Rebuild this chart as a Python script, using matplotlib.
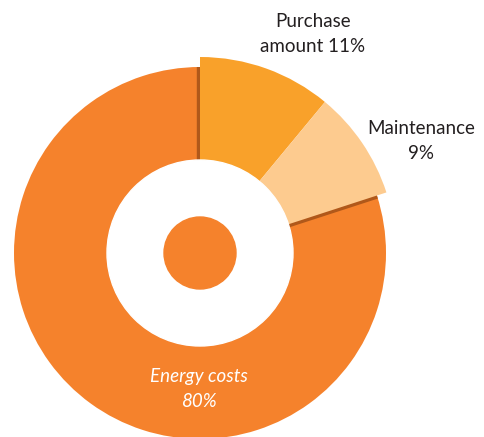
import matplotlib.pyplot as plt
from matplotlib.patches import Circle
import numpy as np

# cost shares (%), drawn clockwise from 12 o'clock
categories = ['Purchase amount', 'Maintenance', 'Energy costs']
shares = [11, 9, 80]
colors = ['#F9A12A', '#FDCB8F', '#F5822C']
brown = '#B0581A'

W, H = 485, 437
fig = plt.figure(figsize=(W / 100, H / 100), dpi=100)
ax = fig.add_axes([0, 0, 1, 1])

# work in pixel units, y measured up from the bottom
cx, cy = 200, H - 253
r = 186

wedges, _ = ax.pie(shares, colors=colors, startangle=90, counterclock=False,
                   radius=r, center=(cx, cy), frame=True,
                   wedgeprops=dict(linewidth=0))
ax.set_xlim(0, W)
ax.set_ylim(0, H)
ax.set_aspect('equal')
ax.axis('off')

# the two small slices stick out a bit further
for w in wedges[:2]:
    w.set_radius(r + 10)
    w.set_zorder(3)
wedges[2].set_zorder(1)

# dark edges on both ends of the energy slice
for ang in (wedges[2].theta1, wedges[2].theta2):
    a = np.deg2rad(ang)
    ax.plot([cx, cx + r * np.cos(a)], [cy, cy + r * np.sin(a)],
            color=brown, lw=4.6, solid_capstyle='butt', zorder=2)

ax.add_patch(Circle((cx, cy), 93, color='white', zorder=4))
ax.add_patch(Circle((cx, cy), 36, color=colors[2], zorder=5))

font = 'Lato'
fs = 13.5
ax.text(313, H - 34, f'Purchase\namount {shares[0]}%', ha='center', va='center',
        fontsize=fs, family=font, color='#231F20', linespacing=1.55, zorder=6)
ax.text(421, H - 141, f'Maintenance\n{shares[1]}%', ha='center', va='center',
        fontsize=fs, family=font, color='#231F20', linespacing=1.55, zorder=6)
ax.text(199, H - 389, f'Energy costs\n{shares[2]}%', ha='center', va='center',
        fontsize=fs, family=font, style='italic', color='white',
        linespacing=1.55, zorder=6)

plt.savefig('out.png', dpi=100)
